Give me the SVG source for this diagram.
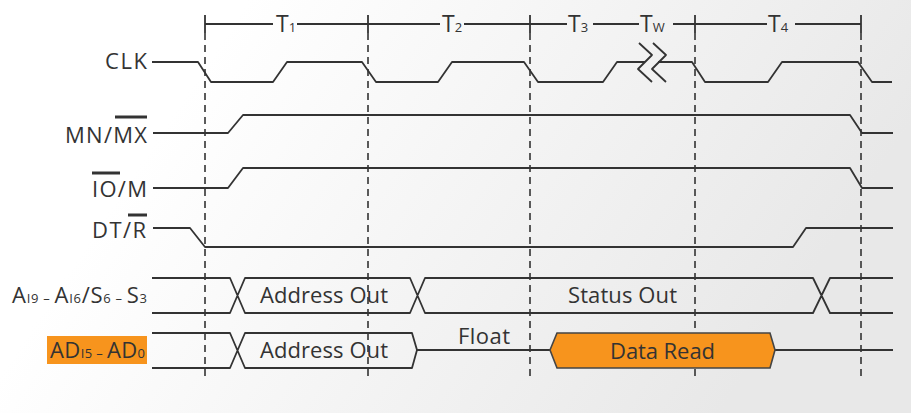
<svg xmlns="http://www.w3.org/2000/svg" width="911" height="413" viewBox="0 0 911 413">
<defs>
<linearGradient id="bg" x1="0" y1="0" x2="1" y2="0.3">
<stop offset="0.25" stop-color="#ffffff"/>
<stop offset="1" stop-color="#e8e8e8"/>
</linearGradient>
</defs>
<style>
.sig{fill:none;stroke:#333;stroke-width:1.8;stroke-linejoin:round}
.dash{fill:none;stroke:#333;stroke-width:1.6;stroke-dasharray:7 5}
.tick{stroke:#333;stroke-width:1.8}
.bar{stroke:#333;stroke-width:3}
text{font-family:"Open Sans","Liberation Sans",sans-serif;fill:#333;font-size:22px}
.tl{font-size:23px}
.sub{font-size:13px}
.hex{fill:#F7941D;stroke:#444;stroke-width:1.6}
</style>
<rect width="911" height="413" fill="url(#bg)"/>

<g id="time-bar">
<path class="tick" d="M205,24H273 M297,24H440 M464,24H567 M593,24H639 M673,24H767 M795,24H861"/>
<path class="tick" d="M205,15V33 M368,15V33 M530,15V33 M695,15V33 M861,15V33"/>
<text class="tl" x="276" y="32">T<tspan class="sub">1</tspan></text>
<text class="tl" x="442" y="32">T<tspan class="sub">2</tspan></text>
<text class="tl" x="568" y="32">T<tspan class="sub">3</tspan></text>
<text class="tl" x="640" y="32">T<tspan class="sub" font-size="15px">W</tspan></text>
<text class="tl" x="768" y="32">T<tspan class="sub">4</tspan></text>
</g>

<g id="connectors">
<path class="dash" d="M205,33V378 M368,33V378 M530,33V378 M695,33V378 M861,33V378"/>
</g>

<g id="clk">
<text x="105" y="69" textLength="42">CLK</text>
<polyline class="sig" points="152,62 198,62 211,82 273,82 287,62 362,62 376,82 438,82 452,62 524,62 538,82 603,82 617,62 645,62"/>
<polyline class="sig" points="658,62 692,62 705,82 768,82 782,62 858,62 872,82 892,82"/>
<polyline class="sig" points="639,43 652,55 638,69 652,82"/>
<polyline class="sig" points="653,43 666,55 652,69 666,82"/>
</g>

<g id="mn-mx">
<text x="65" y="143" textLength="82">MN/MX</text>
<line class="bar" x1="115" y1="117" x2="147" y2="117"/>
<polyline class="sig" points="153,133 228,133 243,115 850,115 862,133 893,133"/>
</g>

<g id="io-m">
<text x="92" y="197" textLength="55">IO/M</text>
<line class="bar" x1="92" y1="173" x2="120" y2="173"/>
<polyline class="sig" points="153,188 228,188 243,168 850,168 862,188 893,188"/>
</g>

<g id="dt-r">
<text x="92" y="238" textLength="54">DT/R</text>
<line class="bar" x1="128" y1="215" x2="147" y2="215"/>
<polyline class="sig" points="153,228 190,228 205,247 793,247 806,228 893,228"/>
</g>

<g id="a19-a16">
<text x="12" y="303" textLength="135">A<tspan class="sub">I9 – </tspan>A<tspan class="sub">I6</tspan>/S<tspan class="sub">6 – </tspan>S<tspan class="sub">3</tspan></text>
<path class="sig" d="M152,278H230L245,313H410L425,278H813L830,313H893 M152,313H230L245,278H410L425,313H813L830,278H893"/>
<text x="260" y="303" textLength="128">Address Out</text>
<text x="568" y="303" textLength="109">Status Out</text>
</g>

<g id="ad15-ad0">
<rect x="47" y="336" width="100" height="28" fill="#F7941D"/>
<text x="50" y="358" textLength="95">AD<tspan class="sub">I5 – </tspan>AD<tspan class="sub">0</tspan></text>
<path class="sig" d="M152,333H230L245,368H412L417,350L412,333H245L230,368H152 M417,350H550 M775,350H893"/>
<text x="260" y="358" textLength="128">Address Out</text>
<text x="458" y="344" textLength="52">Float</text>
<polygon class="hex" points="550,350 557,333 770,333 775,350 770,368 557,368"/>
<text x="610" y="359" textLength="105">Data Read</text>
</g>
</svg>
